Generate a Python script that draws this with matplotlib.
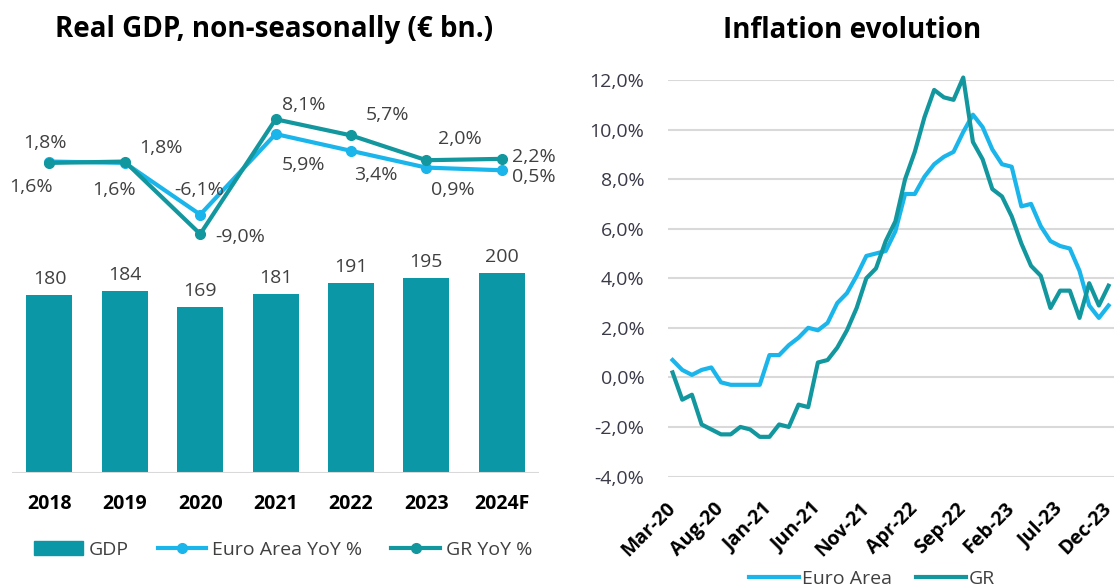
import matplotlib
matplotlib.use("Agg")
import matplotlib.pyplot as plt
from matplotlib.lines import Line2D
from matplotlib.patches import Patch
import numpy as np

plt.rcParams["font.family"] = ["Open Sans", "DejaVu Sans"]

# ---- left chart data ----
years = ["2018", "2019", "2020", "2021", "2022", "2023", "2024F"]
gdp = [180, 184, 169, 181, 191, 195, 200]
ea_yoy = [1.8, 1.6, -6.1, 5.9, 3.4, 0.9, 0.5]
gr_yoy = [1.6, 1.8, -9.0, 8.1, 5.7, 2.0, 2.2]
# label offsets in pixels (dx, dy up)
ea_off = [(-5, 19), (-11, -27), (-1, 25), (28, -31), (25, -24), (26, -22), (32, -7)]
gr_off = [(-18, -24), (36, 14), (40, -3), (28, 14), (37, 20), (34, 21), (32, 2)]

# ---- right chart data ----
months = ["Mar-20", "Apr-20", "May-20", "Jun-20", "Jul-20", "Aug-20", "Sep-20", "Oct-20",
          "Nov-20", "Dec-20", "Jan-21", "Feb-21", "Mar-21", "Apr-21", "May-21", "Jun-21",
          "Jul-21", "Aug-21", "Sep-21", "Oct-21", "Nov-21", "Dec-21", "Jan-22", "Feb-22",
          "Mar-22", "Apr-22", "May-22", "Jun-22", "Jul-22", "Aug-22", "Sep-22", "Oct-22",
          "Nov-22", "Dec-22", "Jan-23", "Feb-23", "Mar-23", "Apr-23", "May-23", "Jun-23",
          "Jul-23", "Aug-23", "Sep-23", "Oct-23", "Nov-23", "Dec-23"]
infl_ea = [0.7, 0.3, 0.1, 0.3, 0.4, -0.2, -0.3, -0.3, -0.3, -0.3, 0.9, 0.9, 1.3, 1.6,
           2.0, 1.9, 2.2, 3.0, 3.4, 4.1, 4.9, 5.0, 5.1, 5.9, 7.4, 7.4, 8.1, 8.6, 8.9,
           9.1, 9.9, 10.6, 10.1, 9.2, 8.6, 8.5, 6.9, 7.0, 6.1, 5.5, 5.3, 5.2, 4.3, 2.9,
           2.4, 2.9]
infl_gr = [0.2, -0.9, -0.7, -1.9, -2.1, -2.3, -2.3, -2.0, -2.1, -2.4, -2.4, -1.9, -2.0,
           -1.1, -1.2, 0.6, 0.7, 1.2, 1.9, 2.8, 4.0, 4.4, 5.5, 6.3, 8.0, 9.1, 10.5, 11.6,
           11.3, 11.2, 12.1, 9.5, 8.8, 7.6, 7.3, 6.5, 5.4, 4.5, 4.1, 2.8, 3.5, 3.5, 2.4,
           3.8, 2.9, 3.7]

BAR = "#0b97a6"
TEAL = "#13979f"
BLUE = "#1ab5eb"
TXT = "#404040"
FS = 14

W, H = 1115, 586


def rect(x0, y0, x1, y1):
    return [x0 / W, 1 - y1 / H, (x1 - x0) / W, (y1 - y0) / H]


def pct(v):
    return f"{v:.1f}%".replace(".", ",")


fig = plt.figure(figsize=(W / 100, H / 100), dpi=100)

# ---- left: bars ----
axb = fig.add_axes(rect(11.8, 60, 539.4, 473))
x = np.arange(len(years))
axb.bar(x, gdp, width=0.61, color=BAR)
axb.set_xlim(-0.5, 6.5)
axb.set_ylim(20.5, 390.6)
axb.axhline(20.5, color="#d9d9d9", lw=1.5)
for s in axb.spines.values():
    s.set_visible(False)
axb.set_yticks([])
axb.set_xticks(x)
axb.set_xticklabels(years, fontweight="bold", fontsize=FS)
axb.tick_params(axis="x", length=0, pad=15)
for xi, v in zip(x, gdp):
    axb.annotate(str(v), (xi, v), xytext=(0, 16), textcoords="offset pixels",
                 ha="center", va="center", fontsize=FS, color=TXT)

# ---- left: lines ----
axl = axb.twinx()
axl.set_ylim(-44.6, 16.93)
axl.set_yticks([])
for s in axl.spines.values():
    s.set_visible(False)
axl.plot(x, ea_yoy, color=BLUE, lw=3, marker="o", ms=7)
axl.plot(x, gr_yoy, color=TEAL, lw=3, marker="o", ms=7)
for xi, v, o in zip(x, ea_yoy, ea_off):
    axl.annotate(pct(v), (xi, v), xytext=o, textcoords="offset pixels",
                 ha="center", va="center", fontsize=FS, color=TXT)
for xi, v, o in zip(x, gr_yoy, gr_off):
    axl.annotate(pct(v), (xi, v), xytext=o, textcoords="offset pixels",
                 ha="center", va="center", fontsize=FS, color=TXT)

fig.text(274 / W, 1 - 29 / H, "Real GDP, non-seasonally (€ bn.)", ha="center", va="center",
         fontsize=20, fontweight="bold")

handles = [Patch(color=BAR),
           Line2D([], [], color=BLUE, lw=3, marker="o", ms=7),
           Line2D([], [], color=TEAL, lw=3, marker="o", ms=7)]
fig.legend(handles, ["GDP", "Euro Area YoY %", "GR YoY %"], loc="center",
           bbox_to_anchor=(283 / W, 1 - 550 / H), ncol=3, frameon=False, fontsize=FS,
           handlelength=2.5, handletextpad=0.3, columnspacing=1.5, labelcolor=TXT)

# ---- right: inflation ----
axr = fig.add_axes(rect(668, 80, 1114, 476.5))
t = np.arange(len(months))
axr.plot(t, infl_ea, color=BLUE, lw=3, clip_on=False, label="Euro Area")
axr.plot(t, infl_gr, color=TEAL, lw=3, clip_on=False, label="GR")
axr.set_xlim(-0.47, 45.56)
axr.set_ylim(-4, 12)
yt = np.arange(-4, 13, 2)
axr.set_yticks(yt)
axr.set_yticklabels([pct(v) for v in yt], fontsize=FS, color="#3a3a48")
axr.grid(axis="y", color="#d9d9d9", lw=1.5)
axr.set_axisbelow(True)
for s in axr.spines.values():
    s.set_visible(False)
axr.tick_params(axis="y", length=0, pad=17)
axr.set_xticks(t[::5])
axr.set_xticklabels(months[::5], rotation=45, ha="right", va="center",
                    rotation_mode="anchor", fontsize=FS, fontweight="bold")
axr.tick_params(axis="x", length=0, pad=21)

fig.text(852 / W, 1 - 30 / H, "Inflation evolution", ha="center", va="center",
         fontsize=20, fontweight="bold")
fig.legend(*axr.get_legend_handles_labels(), loc="center", bbox_to_anchor=(872 / W, 1 - 579 / H),
           ncol=2, frameon=False, fontsize=FS, handlelength=2.6, handletextpad=0.15,
           columnspacing=1.2, labelcolor=TXT)

fig.savefig("out.png", dpi=100)
